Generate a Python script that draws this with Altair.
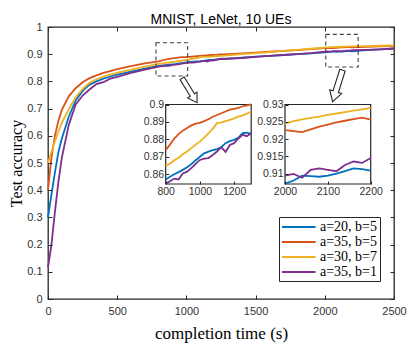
import altair as alt
import pandas as pd

# ---------------- data ----------------
times = [0, 25, 50, 75, 100, 150, 200, 250, 300, 350, 400, 450, 500, 600, 700,
         800, 825, 850, 875, 900, 925, 950, 975, 1000, 1025, 1050, 1075, 1100, 1125,
         1150, 1175, 1200, 1225, 1250, 1275, 1300,
         1400, 1500, 1600, 1700, 1800, 1900,
         2000, 2020, 2040, 2060, 2080, 2100, 2120, 2140, 2160, 2180, 2200,
         2300, 2400, 2500]

acc_a20_b5 = [0.30, 0.385, 0.465, 0.54, 0.59, 0.67, 0.73, 0.765, 0.788, 0.800, 0.810, 0.818, 0.825, 0.836, 0.847,
              0.857, 0.8585, 0.860, 0.8612, 0.8625, 0.864, 0.8658, 0.868, 0.870, 0.872, 0.873, 0.8738, 0.8744, 0.8755,
              0.8778, 0.879, 0.8797, 0.881, 0.8836, 0.8838, 0.8832,
              0.887, 0.891, 0.894, 0.897, 0.900, 0.903,
              0.9071, 0.908, 0.9094, 0.9093, 0.9091, 0.9094, 0.910, 0.9107, 0.9115, 0.9113, 0.9109,
              0.915, 0.918, 0.921]

acc_a35_b5 = [0.40, 0.52, 0.60, 0.655, 0.695, 0.745, 0.775, 0.797, 0.812, 0.822, 0.831, 0.838, 0.845, 0.856, 0.866,
              0.874, 0.877, 0.8805, 0.883, 0.885, 0.8865, 0.888, 0.889, 0.8895, 0.8905, 0.8915, 0.893, 0.894, 0.895,
              0.896, 0.897, 0.8975, 0.898, 0.899, 0.8995, 0.900,
              0.903, 0.906, 0.909, 0.912, 0.915, 0.919,
              0.9226, 0.9223, 0.922, 0.9228, 0.9236, 0.9242, 0.9248, 0.9253, 0.9258, 0.9262, 0.9256,
              0.927, 0.929, 0.930]

acc_a30_b7 = [0.50, 0.54, 0.58, 0.615, 0.648, 0.697, 0.742, 0.772, 0.795, 0.808, 0.818, 0.825, 0.831, 0.843, 0.854,
              0.8648, 0.866, 0.868, 0.8695, 0.8715, 0.873, 0.875, 0.877, 0.8787, 0.881, 0.8835, 0.886, 0.8893, 0.8898,
              0.8905, 0.8912, 0.892, 0.893, 0.8938, 0.8948, 0.896,
              0.900, 0.904, 0.908, 0.912, 0.916, 0.920,
              0.9245, 0.9252, 0.9257, 0.9261, 0.9265, 0.927, 0.9274, 0.9278, 0.9282, 0.9286, 0.929,
              0.930, 0.931, 0.932]

acc_a35_b1 = [0.115, 0.20, 0.32, 0.43, 0.52, 0.64, 0.715, 0.748, 0.770, 0.790, 0.797, 0.810, 0.817, 0.831, 0.843,
              0.8546, 0.856, 0.8575, 0.857, 0.8605, 0.8615, 0.8635, 0.866, 0.8682, 0.869, 0.8693, 0.871, 0.873, 0.8755,
              0.8728, 0.8768, 0.8778, 0.8805, 0.8826, 0.8818, 0.8836,
              0.886, 0.890, 0.894, 0.897, 0.900, 0.904,
              0.9094, 0.9099, 0.9088, 0.9111, 0.9115, 0.9111, 0.9107, 0.9125, 0.9135, 0.9131, 0.9145,
              0.916, 0.918, 0.921]

series_labels = ["a=20, b=5", "a=35, b=5", "a=30, b=7", "a=35, b=1"]
series_colors = ["#0072BD", "#D95319", "#EDB120", "#7E2F8E"]
series_values = [acc_a20_b5, acc_a35_b5, acc_a30_b7, acc_a35_b1]

x_ticks = [0, 500, 1000, 1500, 2000, 2500]
y_ticks = [0, 0.1, 0.2, 0.3, 0.4, 0.5, 0.6, 0.7, 0.8, 0.9, 1.0]
inset1_x_ticks = [800, 1000, 1200]
inset1_y_ticks = [0.86, 0.87, 0.88, 0.89, 0.9]
inset2_x_ticks = [2000, 2100, 2200]
inset2_y_ticks = [0.91, 0.915, 0.92, 0.925, 0.93]

# zoom boxes (data coords of main plot)
box_x0 = [780, 2007]
box_x1 = [1009, 2241]
box_y0 = [0.820, 0.853]
box_y1 = [0.942, 0.973]

# arrows (centre in main data coords, length px, angle deg)
arrow_x = [1023, 2092]
arrow_y = [0.7665, 0.7835]
arrow_len = [28.6, 33.0]
arrow_angle = [328.4, 17.5]

rows = []
for lab, vals in zip(series_labels, series_values):
    for t, v in zip(times, vals):
        rows.append({"series": lab, "t": t, "acc": v})
df = pd.DataFrame(rows)

# ---------------- layout ----------------
W, H = 346, 272
TXT = "#262626"
LBL = "#333333"
SANS = "Liberation Sans, Arial, sans-serif"
SERIF = "Liberation Serif, Times New Roman, serif"

color_scale = alt.Scale(domain=series_labels, range=series_colors)
main_x = alt.Scale(domain=[0, 2500], nice=False, zero=False)
main_y = alt.Scale(domain=[0, 1], nice=False, zero=False)

LEGEND_LINE = "M -1 0 L 3.8 0"

main = alt.Chart(df).mark_line(strokeWidth=1.8).encode(
    x=alt.X("t:Q", scale=main_x,
            axis=alt.Axis(orient="bottom", values=x_ticks, offset=-4, domain=False, tickSize=4,
                          labelPadding=6, labelFlush=False, labelOverlap=False, format="d",
                          title="completion time (s)", titleFont=SERIF, titleFontSize=17,
                          titleFontWeight="normal", titleColor="black", titlePadding=9, zindex=1)),
    y=alt.Y("acc:Q", scale=main_y,
            axis=alt.Axis(orient="left", values=y_ticks, offset=-4, domain=False, tickSize=4,
                          labelPadding=6, labelFlush=False, labelOverlap=False, format=".1~f",
                          title="Test accuracy", titleFont=SERIF, titleFontSize=16,
                          titleFontWeight="normal", titleColor="black", titlePadding=2, zindex=1)),
    color=alt.Color("series:N", scale=color_scale, sort=series_labels,
                    legend=alt.Legend(orient="none", legendX=231, legendY=190, title=None,
                                      symbolType=LEGEND_LINE, symbolSize=196, symbolStrokeWidth=1.8,
                                      labelFont=SERIF, labelFontSize=14, labelFontWeight="normal",
                                      labelColor="black", strokeColor=TXT, fillColor="white", padding=2,
                                      rowPadding=0, labelOffset=23)),
)

ticks_tr = alt.Chart(df).mark_point(opacity=0).encode(
    x=alt.X("t:Q", scale=main_x,
            axis=alt.Axis(orient="top", values=x_ticks, offset=-4, domain=False, tickSize=4,
                          labels=False, title=None)),
    y=alt.Y("acc:Q", scale=main_y,
            axis=alt.Axis(orient="right", values=y_ticks, offset=-4, domain=False, tickSize=4,
                          labels=False, title=None)),
)

boxes = alt.Chart(pd.DataFrame({"x0": box_x0, "x1": box_x1, "y0": box_y0, "y1": box_y1})).mark_rect(
    fillOpacity=0, stroke="#404040", strokeWidth=1.1, strokeDash=[4, 3]
).encode(
    x=alt.X("x0:Q", scale=main_x, axis=None), x2="x1:Q",
    y=alt.Y("y0:Q", scale=main_y, axis=None), y2="y1:Q",
)

ARROW = "M -0.17 -1 L 0.17 -1 L 0.17 0.37 L 0.38 0.37 L 0 1 L -0.38 0.37 L -0.17 0.37 Z"
arrows = alt.Chart(pd.DataFrame({"x": arrow_x, "y": arrow_y,
                                 "size": [l * l for l in arrow_len], "angle": arrow_angle})).mark_point(
    shape=ARROW, filled=True, fill="white", stroke=TXT, strokeWidth=1.1, opacity=1
).encode(
    x=alt.X("x:Q", scale=main_x, axis=None),
    y=alt.Y("y:Q", scale=main_y, axis=None),
    size=alt.Size("size:Q", scale=None, legend=None),
    angle=alt.Angle("angle:Q", scale=None),
)


def inset(xdom, ydom, xr, yr, xt, yt):
    xs = alt.Scale(domain=xdom, range=xr, nice=False, zero=False)
    ys = alt.Scale(domain=ydom, range=yr, nice=False, zero=False)
    frame = alt.Chart(pd.DataFrame({"x0": [xdom[0]], "x1": [xdom[1]],
                                    "y0": [ydom[0]], "y1": [ydom[1]]})).mark_rect(
        fill="white", stroke=TXT, strokeWidth=1.2
    ).encode(
        x=alt.X("x0:Q", scale=xs, axis=None), x2="x1:Q",
        y=alt.Y("y0:Q", scale=ys, axis=None), y2="y1:Q",
    )
    lines = alt.Chart(df).transform_filter(
        (alt.datum.t >= xdom[0]) & (alt.datum.t <= xdom[1])
    ).mark_line(strokeWidth=1.8).encode(
        x=alt.X("t:Q", scale=xs,
                axis=alt.Axis(orient="bottom", values=xt, offset=yr[0] - 3 - H, domain=False,
                              tickSize=3, labelPadding=2, labelFlush=False, labelOverlap=False,
                              labelFontSize=10.5, format="d", title=None, zindex=1)),
        y=alt.Y("acc:Q", scale=ys,
                axis=alt.Axis(orient="left", values=yt, offset=-(xr[0] + 3), domain=False,
                              tickSize=3, labelPadding=2, labelFlush=False, labelOverlap=False,
                              labelFontSize=10.5, format=".3~f", title=None, zindex=1)),
        color=alt.Color("series:N", scale=color_scale, legend=None),
    )
    return [frame, lines]


inset1 = inset([800, 1300], [0.8544, 0.9], [117.7, 203.2], [157, 77.5], inset1_x_ticks, inset1_y_ticks)
inset2 = inset([2000, 2200], [0.907, 0.93], [237, 322.7], [157, 77.5], inset2_x_ticks, inset2_y_ticks)

chart = alt.layer(main, ticks_tr, boxes, arrows, *inset1, *inset2).resolve_scale(
    x="independent", y="independent"
).properties(
    width=W, height=H,
    title=alt.TitleParams("MNIST, LeNet, 10 UEs", font=SANS, fontSize=14, fontWeight="normal",
                          color="black", anchor="middle", frame="group", offset=0, dy=6),
    autosize="none",
    padding={"left": 40, "top": 19, "right": 14, "bottom": 47},
).configure_view(
    stroke=TXT, strokeWidth=1.3
).configure_axis(
    grid=False, labelFont=SANS, labelFontSize=11, labelColor=LBL, tickColor=TXT, tickWidth=1
).configure_legend(
    labelFont=SERIF, labelFontSize=14, labelColor="black"
)

chart.save("out.html", embed_options={"renderer": "svg", "actions": False})
